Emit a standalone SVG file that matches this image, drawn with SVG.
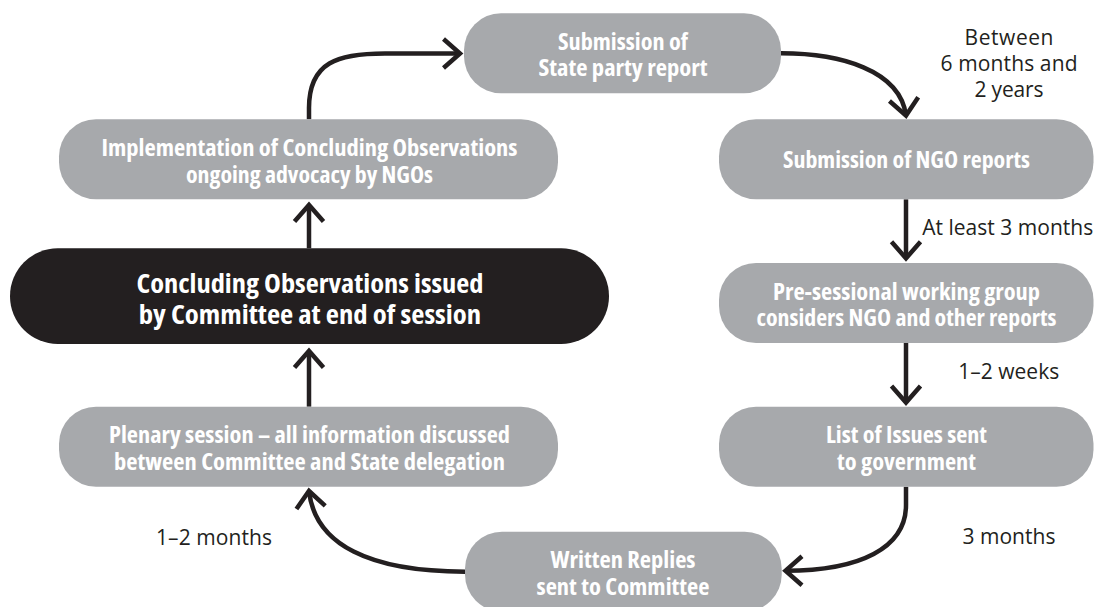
<svg xmlns="http://www.w3.org/2000/svg" width="1098" height="607" viewBox="0 0 1098 607">
<style>
.box{fill:#a7a9ac}
.dark{fill:#231f20}
.nt{font-family:"Open Sans","Liberation Sans",sans-serif;font-weight:700;font-stretch:condensed;font-size:23.5px;fill:#ffffff;text-anchor:middle}
.big{font-size:27.5px}
.lab{font-family:"Open Sans","Liberation Sans",sans-serif;font-size:21px;fill:#231f20}
.mid{text-anchor:middle}
.conn{fill:none;stroke:#231f20;stroke-width:4.5}
</style>
<defs>
<marker id="ah" markerUnits="userSpaceOnUse" markerWidth="50" markerHeight="50" viewBox="-25 -25 50 50" refX="0" refY="0" orient="auto" overflow="visible">
<path d="M-16.5,-14.5 L0,0 L-16.5,14.5" fill="none" stroke="#231f20" stroke-width="4.5" stroke-linejoin="miter"/>
</marker>
</defs>
<rect width="1098" height="607" fill="#ffffff"/>
<g id="connectors">
<path class="conn" d="M309,119.3 V108 C309,62 338,53.5 385,53.5 H460" marker-end="url(#ah)"/>
<path class="conn" d="M781,53.3 C840,53.3 900,70 906,115.5" marker-end="url(#ah)"/>
<path class="conn" d="M906,199.3 V258.3" marker-end="url(#ah)"/>
<path class="conn" d="M906,343 V402.6" marker-end="url(#ah)"/>
<path class="conn" d="M906,486.7 V505 C906,548 860,570.7 785.5,570.7" marker-end="url(#ah)"/>
<path class="conn" d="M465,571.7 C370,571.7 315,545 309,491" marker-end="url(#ah)"/>
<path class="conn" d="M309,406.7 V351" marker-end="url(#ah)"/>
<path class="conn" d="M309,248.3 V205" marker-end="url(#ah)"/>
</g>
<g id="n-state-report">
<rect class="box" x="464" y="13.3" width="317" height="80" rx="37"/>
<text class="nt" x="623" y="50" textLength="130" lengthAdjust="spacingAndGlyphs">Submission of</text>
<text class="nt" x="623" y="76.3" textLength="169" lengthAdjust="spacingAndGlyphs">State party report</text>
</g>
<g id="n-ngo-reports">
<rect class="box" x="719" y="119.3" width="374.5" height="80" rx="37"/>
<text class="nt" x="906.5" y="168.3" textLength="247" lengthAdjust="spacingAndGlyphs">Submission of NGO reports</text>
</g>
<g id="n-presessional">
<rect class="box" x="719" y="263" width="374.5" height="80" rx="37"/>
<text class="nt" x="906.5" y="299.7" textLength="267" lengthAdjust="spacingAndGlyphs">Pre-sessional working group</text>
<text class="nt" x="906.5" y="326" textLength="300" lengthAdjust="spacingAndGlyphs">considers NGO and other reports</text>
</g>
<g id="n-list-issues">
<rect class="box" x="719" y="406.7" width="374.5" height="80" rx="37"/>
<text class="nt" x="906.5" y="443.4" textLength="161" lengthAdjust="spacingAndGlyphs">List of Issues sent</text>
<text class="nt" x="906.5" y="469.7" textLength="139" lengthAdjust="spacingAndGlyphs">to government</text>
</g>
<g id="n-written-replies">
<rect class="box" x="465" y="531.7" width="316.7" height="80" rx="37"/>
<text class="nt" x="623" y="568.4" textLength="145" lengthAdjust="spacingAndGlyphs">Written Replies</text>
<text class="nt" x="623" y="594.7" textLength="173" lengthAdjust="spacingAndGlyphs">sent to Committee</text>
</g>
<g id="n-plenary">
<rect class="box" x="59" y="406.7" width="499" height="80" rx="37"/>
<text class="nt" x="309.5" y="443.4" textLength="401" lengthAdjust="spacingAndGlyphs">Plenary session – all information discussed</text>
<text class="nt" x="309.5" y="469.7" textLength="391" lengthAdjust="spacingAndGlyphs">between Committee and State delegation</text>
</g>
<g id="n-concluding">
<rect class="dark" x="10" y="248.3" width="599" height="95.7" rx="47.8"/>
<text class="nt big" x="310" y="292.8" textLength="347" lengthAdjust="spacingAndGlyphs">Concluding Observations issued</text>
<text class="nt big" x="310" y="323.5" textLength="342.5" lengthAdjust="spacingAndGlyphs">by Committee at end of session</text>
</g>
<g id="n-implementation">
<rect class="box" x="59" y="119.3" width="499" height="80" rx="37"/>
<text class="nt" x="309.5" y="156.3" textLength="416" lengthAdjust="spacingAndGlyphs">Implementation of Concluding Observations</text>
<text class="nt" x="309.5" y="182.5" textLength="247" lengthAdjust="spacingAndGlyphs">ongoing advocacy by NGOs</text>
</g>
<g id="labels">
<text class="lab mid" x="1009" y="45" textLength="89">Between</text>
<text class="lab mid" x="1009" y="71" textLength="137">6 months and</text>
<text class="lab mid" x="1009" y="97" textLength="69">2 years</text>
<text class="lab" x="922.2" y="235" textLength="171">At least 3 months</text>
<text class="lab" x="958.2" y="379" textLength="101">1–2 weeks</text>
<text class="lab" x="962.4" y="544.3" textLength="93">3 months</text>
<text class="lab" x="156" y="545" textLength="116">1–2 months</text>
</g>
</svg>
